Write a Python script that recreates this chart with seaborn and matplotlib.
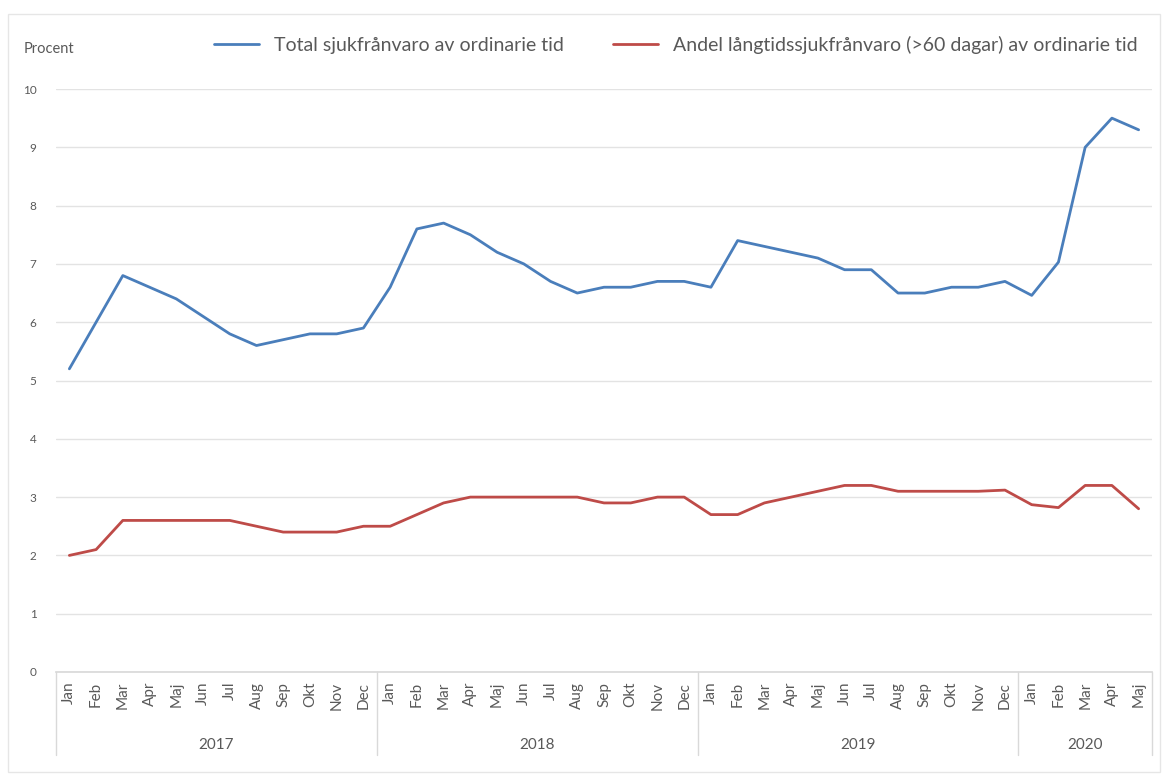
import numpy as np
import pandas as pd
import seaborn as sns
import matplotlib.pyplot as plt
from matplotlib.patches import Rectangle
import matplotlib.transforms as mtransforms

months = ['Jan', 'Feb', 'Mar', 'Apr', 'Maj', 'Jun', 'Jul', 'Aug', 'Sep', 'Okt', 'Nov', 'Dec']
years = ['2017', '2018', '2019', '2020']
months_per_year = [12, 12, 12, 5]

total = [5.2, 6.0, 6.8, 6.6, 6.4, 6.1, 5.8, 5.6, 5.7, 5.8, 5.8, 5.9,
         6.6, 7.6, 7.7, 7.5, 7.2, 7.0, 6.7, 6.5, 6.6, 6.6, 6.7, 6.7,
         6.6, 7.4, 7.3, 7.2, 7.1, 6.9, 6.9, 6.5, 6.5, 6.6, 6.6, 6.7,
         6.46, 7.03, 9.0, 9.5, 9.3]
lang = [2.0, 2.1, 2.6, 2.6, 2.6, 2.6, 2.6, 2.5, 2.4, 2.4, 2.4, 2.5,
        2.5, 2.7, 2.9, 3.0, 3.0, 3.0, 3.0, 3.0, 2.9, 2.9, 3.0, 3.0,
        2.7, 2.7, 2.9, 3.0, 3.1, 3.2, 3.2, 3.1, 3.1, 3.1, 3.1, 3.12,
        2.87, 2.82, 3.2, 3.2, 2.8]

name_total = 'Total sjukfrånvaro av ordinarie tid'
name_lang = 'Andel långtidssjukfrånvaro (>60 dagar) av ordinarie tid'

labels = []
for n in months_per_year:
    labels += months[:n]
idx = np.arange(len(labels))

df = pd.DataFrame({
    'idx': np.concatenate([idx, idx]),
    'value': total + lang,
    'serie': [name_total] * len(total) + [name_lang] * len(lang),
})

sns.set_theme(style='white')
plt.rcParams['font.family'] = ['Lato', 'DejaVu Sans']
grey = '#595959'

fig = plt.figure(figsize=(11.68, 7.74), dpi=100)
ax = fig.add_axes([56 / 1168, 1 - 672 / 774, (1152 - 56) / 1168, (672 - 89) / 774])

sns.lineplot(data=df, x='idx', y='value', hue='serie', ax=ax,
             palette={name_total: '#4a7ebb', name_lang: '#be4b48'},
             linewidth=2.0, legend=True)

ax.set_xlim(-0.5, len(labels) - 0.5)
ax.set_ylim(0, 10)
ax.set_yticks(range(0, 11))
ax.set_yticklabels([str(v) for v in range(0, 11)], color=grey, fontsize=8.5)
ax.grid(axis='y', color='#e3e3e3', linewidth=1)
ax.set_xticks(idx)
ax.set_xticklabels(labels, rotation=90, color=grey, fontsize=11)
ax.tick_params(axis='x', length=0, pad=7)
ax.tick_params(axis='y', length=0, pad=14)
ax.set_xlabel('')
ax.set_ylabel('')
for s in ['top', 'right', 'left']:
    ax.spines[s].set_visible(False)
ax.spines['bottom'].set_color('#d9d9d9')

# year groups under the month labels
trans = mtransforms.blended_transform_factory(ax.transData, ax.transAxes)
bounds = np.concatenate([[0], np.cumsum(months_per_year)]) - 0.5
for b in bounds:
    ax.plot([b, b], [0, -0.143], transform=trans, color='#d9d9d9', lw=1, clip_on=False)
for i, y in enumerate(years):
    mid = (bounds[i] + bounds[i + 1]) / 2
    ax.text(mid, -0.126, y, transform=trans, ha='center', va='center',
            color=grey, fontsize=11)

fig.text(24 / 1168, 1 - 49 / 774, 'Procent', color=grey, fontsize=10.5, va='center')

h, l = ax.get_legend_handles_labels()
ax.legend(h, l, loc='center', bbox_to_anchor=(676 / 1168, 1 - 45 / 774),
          bbox_transform=fig.transFigure, ncol=2, frameon=False,
          fontsize=14, labelcolor=grey, handlelength=2.3, columnspacing=2.5)

fig.patches.append(Rectangle((8 / 1168, 2 / 774), 1152 / 1168, 758 / 774,
                             transform=fig.transFigure, fill=False,
                             edgecolor='#e6e6e6', lw=1))

fig.savefig('out.png', dpi=100, facecolor='white')
